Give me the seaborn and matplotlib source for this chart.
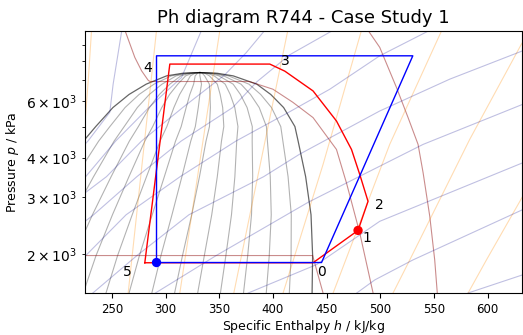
import numpy as np
import pandas as pd
import matplotlib
matplotlib.use("Agg")
import matplotlib.pyplot as plt
import seaborn as sns

# ---------------- data (h in kJ/kg, p in kPa) ----------------
# saturation dome
SAT_P = [1400, 1508, 1975, 2649, 3485, 4502, 5000, 5733, 6300, 6786, 7203, 7340, 7377]
SAT_HL = [134.0, 138.0, 154.5, 176.5, 200.0, 223.5, 235.0, 251.0, 266.0, 282.0, 301.0, 316.0, 332.0]
SAT_HV = [436.3, 436.5, 437.0, 435.5, 430.5, 423.5, 420.5, 410.0, 398.0, 385.0, 363.0, 348.0, 332.0]
QUALITIES = [0.071, 0.143, 0.214, 0.286, 0.357, 0.429, 0.5, 0.571, 0.643, 0.714, 0.786, 0.857, 0.929]

# isotherms
T1_H = [154.5, 437.0, 446.7]
T1_P = [1975, 1975, 1508]
T2_H = [262.1, 271.4, 277.7, 283.8, 285.5, 378.0, 400.0, 418.5, 437.4, 459.2, 468.5, 480.9, 493.3]
T2_P = [10020, 8226, 7470, 6980, 6916, 6916, 6543, 5957, 5333, 4240, 3333, 2323, 1508]
T3_H = [488.6, 499.5, 515.1, 525.9, 535.2, 539.9, 546.1, 550.7, 553.1]
T3_P = [10000, 8844, 6624, 5333, 4397, 3584, 2619, 1914, 1508]

# isentropes
S1_H = [231.1, 228.1, 224.9, 222.0]; S1_P = [10000, 7034, 5083, 4300]
S2_H = [291.6, 265.2]; S2_P = [10000, 1508]
S3_H = [350.6, 313.3]; S3_P = [10000, 1508]
S4_H = [413.9, 363.6]; S4_P = [10000, 1508]
S5_H = [482.5, 446.7, 409.5]; S5_P = [10000, 3805, 1508]
S6_H = [557.3, 508.8, 456.1]; S6_P = [10000, 4397, 1508]
S7_H = [640.0, 631.5, 583.3, 527.5, 511.9]; S7_P = [10000, 9058, 4558, 1914, 1508]
S8_H = [640.0, 632.7, 598.9, 581.8]; S8_P = [3400, 3027, 1914, 1508]

# isochores
V1_H = [259.3, 251.2, 248.1, 227.7, 222.0]; V1_P = [10000, 6786, 5541, 4502, 4300]
V2_H = [333.5, 314.9, 284.4, 253.5, 225.6, 215.0]; V2_P = [10000, 7120, 5733, 4502, 3485, 3100]
V2B_H = [392.5, 375.0, 355.0, 316.0, 277.6, 245.0, 225.0, 215.0]
V2B_P = [10000, 8500, 7250, 5733, 4502, 3485, 3100, 2900]
V3_H = [456.0, 415.7, 385.0, 362.5, 314.5, 273.3, 233.0, 220.0]
V3_P = [10000, 8386, 6900, 5733, 4502, 3485, 2649, 2450]
V4_H = [546.1, 499.5, 453.0, 413.0, 365.5, 313.6, 263.3, 225.7, 215.0]
V4_P = [10000, 8322, 6543, 5500, 4502, 3485, 2649, 1975, 1850]
V5_H = [632.7, 564.7, 499.5, 425.0, 391.4, 321.8, 273.4, 232.3]
V5_P = [8629, 7034, 5593, 4100, 3485, 2649, 1975, 1508]
V6_H = [632.7, 539.9, 499.5, 433.0, 347.2, 290.6]; V6_P = [5869, 4397, 3758, 2900, 1975, 1508]
V7_H = [632.7, 499.5, 440.6, 377.0]; V7_P = [3852, 2527, 1850, 1508]
V8_H = [632.7, 530.5, 494.9, 478.1]; V8_P = [2749, 1914, 1657, 1508]
V9_H = [632.7, 581.8]; V9_P = [1719, 1508]

# cycles
RED_H = [280.7, 304.0, 397.1, 411.1, 437.4, 459.2, 473.2, 480.9, 488.6, 479.3, 437.4, 280.7]
RED_P = [1875, 7841, 7841, 7452, 6462, 5204, 4240, 3540, 2918, 2367, 1875, 1875]
BLUE_H = [291.6, 291.6, 530.3, 445.3, 291.6]
BLUE_P = [1878, 8322, 8322, 1878, 1878]
RED_DOT = (479.3, 2367)
BLUE_DOT = (291.6, 1878)

LABELS = ["0", "1", "2", "3", "4", "5"]
LABEL_H = [445.5, 487.4, 499.5, 411.1, 283.5, 264.0]
LABEL_P = [1756, 2245, 2849, 8009, 7616, 1756]

TITLE = "Ph diagram R744 - Case Study 1"
XLABEL = "Specific Enthalpy $h$ / kJ/kg"
YLABEL = "Pressure $p$ / kPa"
XTICKS = [250, 300, 350, 400, 450, 500, 550, 600]

# ---------------- plotting ----------------
sns.reset_orig()
plt.rcParams['font.family'] = ['DejaVu Sans']

fig = plt.figure(figsize=(5.23, 3.35), dpi=100)
ax = fig.add_axes([85 / 523, 1 - 293 / 335, 437 / 523, 262 / 335])


def draw(h, p, **kw):
    df = pd.DataFrame({"h": h, "p": p})
    sns.lineplot(data=df, x="h", y="p", sort=False, estimator=None, ax=ax, **kw)


iso_kw = dict(lw=0.8)
# quality lines
for q in QUALITIES:
    hq = [hl + q * (hv - hl) for hl, hv in zip(SAT_HL, SAT_HV)]
    draw(hq, SAT_P, color="black", alpha=0.3, **iso_kw)
# dome
draw(SAT_HL, SAT_P, color="black", alpha=0.6, lw=0.9)
draw(SAT_HV, SAT_P, color="black", alpha=0.6, lw=0.9)

for h, p in [(T1_H, T1_P), (T2_H, T2_P), (T3_H, T3_P)]:
    draw(h, p, color="darkred", alpha=0.45, **iso_kw)
for h, p in [(S1_H, S1_P), (S2_H, S2_P), (S3_H, S3_P), (S4_H, S4_P),
             (S5_H, S5_P), (S6_H, S6_P), (S7_H, S7_P), (S8_H, S8_P)]:
    draw(h, p, color="darkorange", alpha=0.3, **iso_kw)
for h, p in [(V1_H, V1_P), (V2_H, V2_P), (V2B_H, V2B_P), (V3_H, V3_P), (V4_H, V4_P),
             (V5_H, V5_P), (V6_H, V6_P), (V7_H, V7_P), (V8_H, V8_P), (V9_H, V9_P)]:
    draw(h, p, color="darkblue", alpha=0.25, **iso_kw)

draw(RED_H, RED_P, color="red", lw=1.0)
draw(BLUE_H, BLUE_P, color="blue", lw=1.0)
sns.scatterplot(x=[RED_DOT[0]], y=[RED_DOT[1]], color="red", s=45, edgecolor="none", ax=ax, zorder=5)
sns.scatterplot(x=[BLUE_DOT[0]], y=[BLUE_DOT[1]], color="blue", s=45, edgecolor="none", ax=ax, zorder=5)

for t, h, p in zip(LABELS, LABEL_H, LABEL_P):
    ax.text(h, p, t, fontsize=10, ha="center", va="center")

ax.set_yscale("log")
ax.set_xlim(225, 632)
ax.set_ylim(1508, 9950)
ax.set_xticks(XTICKS)
ax.tick_params(labelsize=8.5)
ax.set_title(TITLE, fontsize=13)
ax.set_xlabel(XLABEL, fontsize=9, labelpad=1.5)
ax.set_ylabel(YLABEL, fontsize=9)

fig.savefig("out.png", dpi=100)
